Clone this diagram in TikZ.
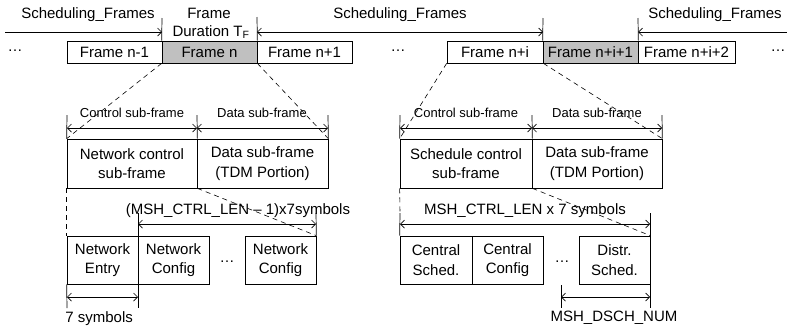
\documentclass[tikz,border=0pt]{standalone}
\usepackage{fontspec}
\setmainfont{Liberation Sans}
\usetikzlibrary{arrows.meta}
\definecolor{framegray}{HTML}{C0C0C0}
\begin{document}
\begin{tikzpicture}[x=1pt,y=-1pt, line width=0.7pt,
  box/.style={draw, inner sep=0pt, align=center, font=\fontsize{15}{19.5}\selectfont},
  lbl/.style={inner sep=0pt, align=center, font=\fontsize{15}{19}\selectfont},
  slbl/.style={inner sep=0pt, font=\fontsize{13}{15}\selectfont},
  dim/.style={{Straight Barb[length=4pt,width=8pt]}-{Straight Barb[length=4pt,width=8pt]}},
  dimr/.style={-{Straight Barb[length=4pt,width=8pt]}},
  dimlft/.style={{Straight Barb[length=4pt,width=8pt]}-},
  dsh/.style={dash pattern=on 5pt off 4pt, line width=0.6pt}
]
\useasboundingbox (0,0) rectangle (787,333);

% ---- top row of frames
\node[box, minimum width=95pt, minimum height=22pt] (fnm1) at (114.5,52) {Frame n-1};
\node[box, minimum width=95pt, minimum height=22pt, fill=framegray] (fn) at (209.5,52) {Frame n};
\node[box, minimum width=95pt, minimum height=22pt] (fnp1) at (304.5,52) {Frame n+1};
\node[box, minimum width=96pt, minimum height=22pt] (fni) at (495,52) {Frame n+i};
\node[box, minimum width=95pt, minimum height=22pt, fill=framegray] (fni1) at (590.5,52) {Frame n+i+1};
\node[box, minimum width=97pt, minimum height=22pt] (fni2) at (686.5,52) {Frame n+i+2};
\node[lbl, anchor=base] (d1) at (15,51) {\ldots};
\node[lbl, anchor=base] (d2) at (398,51) {\ldots};
\node[lbl, anchor=base] (d3) at (778,51) {\ldots};

% top markers
\coordinate (m1) at (162,18);
\coordinate (m2) at (257,17);
\coordinate (m3) at (543,18);
\coordinate (m4) at (638,18);
\draw (fn.north west) -- (m1);
\draw (fn.north east) -- (m2);
\draw (fni1.north west) -- (m3);
\draw (fni1.north east) -- (m4);
\coordinate (a0) at (5,32);
\coordinate (a1) at (162,32);
\coordinate (a2) at (257,32);
\coordinate (a3) at (543,32);
\coordinate (a4) at (638,32);
\coordinate (a5) at (787,32);
\draw[dimr] (a0) -- (a1);
\draw[dim] (a2) -- (a3);
\draw[dimlft] (a4) -- (a5);
\node[lbl] (sf1) at (88,15) {Scheduling\_Frames};
\node[lbl] (sf2) at (400,15) {Scheduling\_Frames};
\node[lbl] (sf3) at (715,15) {Scheduling\_Frames};
\node[lbl] (fd1) at (209,13) {Frame};
\node[lbl] (fd2) at (211,32) {Duration T\textsubscript{F}};

% ---- sub-frame rows
\node[box, minimum width=130pt, minimum height=49pt] (ncs) at (132,163.5) {Network control\\sub-frame};
\node[box, minimum width=131pt, minimum height=49pt] (ds1) at (262.5,163.5) {Data sub-frame\\(TDM Portion)};
\node[box, minimum width=132pt, minimum height=49pt] (scs) at (466,163.5) {Schedule control\\sub-frame};
\node[box, minimum width=130pt, minimum height=49pt] (ds2) at (597,163.5) {Data sub-frame\\(TDM Portion)};

\draw[dsh] (fn.south west) -- (ncs.north west);
\draw[dsh] (fn.south east) -- (ds1.north east);
\draw[dsh] (fni.south west) -- (scs.north west);
\draw[dsh] (fni.south east) -- (ds2.north east);

% sub-frame dimensions
\coordinate (s1) at (67,115);
\coordinate (s2) at (197,115);
\coordinate (s3) at (328,115);
\coordinate (s4) at (400,115);
\coordinate (s5) at (532,115);
\coordinate (s6) at (662,115);
\draw (ncs.north west) -- (s1);
\draw (ncs.north east) -- (s2);
\draw (ds1.north east) -- (s3);
\draw (scs.north west) -- (s4);
\draw (scs.north east) -- (s5);
\draw (ds2.north east) -- (s6);
\coordinate (b1) at (67,128);
\coordinate (b2) at (197,128);
\coordinate (b3) at (328,128);
\coordinate (b4) at (400,128);
\coordinate (b5) at (532,128);
\coordinate (b6) at (662,128);
\draw[dim] (b1) -- (b2);
\draw[dim] (b2) -- (b3);
\draw[dim] (b4) -- (b5);
\draw[dim] (b5) -- (b6);
\node[slbl] (c1) at (132,113) {Control sub-frame};
\node[slbl] (c2) at (262,113) {Data sub-frame};
\node[slbl] (c3) at (466,113) {Control sub-frame};
\node[slbl] (c4) at (597,113) {Data sub-frame};

% ---- bottom rows
\node[box, minimum width=71pt, minimum height=48pt] (ne) at (102.5,260) {Network\\Entry};
\node[box, minimum width=71pt, minimum height=48pt] (nc1) at (173.5,260) {Network\\Config};
\node[box, minimum width=71pt, minimum height=48pt] (nc2) at (280.5,260) {Network\\Config};
\node[lbl, anchor=base] (d4) at (227,262) {\ldots};
\node[box, minimum width=72pt, minimum height=48pt] (cs) at (436,260) {Central\\Sched.};
\node[box, minimum width=71pt, minimum height=48pt] (cc) at (507.5,260) {Central\\Config};
\node[lbl, anchor=base] (d5) at (562,262) {\ldots};
\node[box, minimum width=71pt, minimum height=48pt] (dsc) at (614.5,260) {Distr.\\Sched.};

\draw[dsh] (ncs.south west) -- (ne.north west);
\draw[dsh] (ncs.south east) -- (nc2.north east);
\coordinate (q0) at (400,213);
\draw[dsh] (scs.south west) -- (q0);
\draw (q0) -- (cs.north west);
\draw[dsh] (scs.south east) -- (dsc.north east);

% left dimensions
\coordinate (l1) at (138,213);
\coordinate (l2) at (316,213);
\coordinate (l3) at (67,308);
\coordinate (l4) at (138,308);
\draw (l1) -- (l4);
\draw (l2) -- (nc2.north east);
\draw (ne.south west) -- (l3);
\coordinate (e1) at (138,224);
\coordinate (e2) at (316,224);
\draw[dim] (e1) -- (e2);
\node[lbl] (t1) at (238,211) {(MSH\_CTRL\_LEN -- 1)x7symbols};
\coordinate (e3) at (67,297);
\coordinate (e4) at (138,297);
\draw[dim] (e3) -- (e4);
\node[lbl, anchor=west] (t2) at (65,319) {7 symbols};

% right dimensions
\coordinate (r1) at (650,213);
\coordinate (r2) at (650,308);
\coordinate (r3) at (561,285);
\coordinate (r4) at (561,308);
\draw (r1) -- (r2);
\draw (r3) -- (r4);
\coordinate (f1) at (400,224);
\coordinate (f2) at (650,224);
\draw[dim] (f1) -- (f2);
\node[lbl] (t3) at (525,211) {MSH\_CTRL\_LEN x 7 symbols};
\coordinate (f3) at (561,297);
\coordinate (f4) at (650,297);
\draw[dim] (f3) -- (f4);
\node[lbl] (t4) at (614,318) {MSH\_DSCH\_NUM};
\end{tikzpicture}
\end{document}
